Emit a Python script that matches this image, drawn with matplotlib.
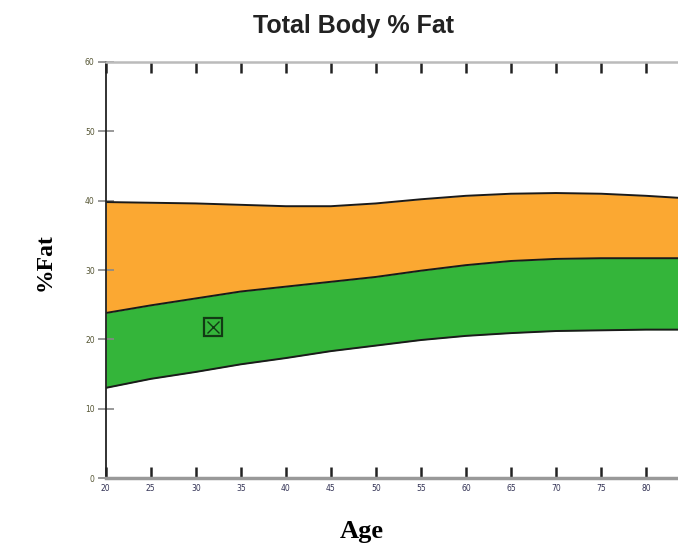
import matplotlib
matplotlib.use("Agg")
import matplotlib.pyplot as plt

# reference bands
age = [20, 25, 30, 35, 40, 45, 50, 55, 60, 65, 70, 75, 80, 85]
upper = [39.8, 39.7, 39.6, 39.4, 39.2, 39.2, 39.6, 40.2, 40.7, 41.0, 41.1, 41.0, 40.7, 40.3]
middle = [23.8, 24.9, 25.9, 26.9, 27.6, 28.3, 29.0, 29.9, 30.7, 31.3, 31.6, 31.7, 31.7, 31.7]
lower = [13.0, 14.3, 15.3, 16.4, 17.3, 18.3, 19.1, 19.9, 20.5, 20.9, 21.2, 21.3, 21.4, 21.4]

# patient point
pt_age = [31.9]
pt_fat = [21.8]

xticks = [20, 25, 30, 35, 40, 45, 50, 55, 60, 65, 70, 75, 80]
yticks = [0, 10, 20, 30, 40, 50, 60]

fig = plt.figure(figsize=(6.78, 5.53), dpi=100)
# axes runs off the right edge of the picture, as in the original
ax = fig.add_axes([0.156, 0.1356, 0.844, 0.7523])

ax.fill_between(age, middle, upper, color="#fba832", lw=0)
ax.fill_between(age, lower, middle, color="#34b53a", lw=0)
for curve in (upper, middle, lower):
    ax.plot(age, curve, color="#1a1a1a", lw=1.4)

ax.plot(pt_age, pt_fat, marker="s", ms=13, mfc="none", mec="#123a14", mew=1.6, ls="none")
ax.plot(pt_age, pt_fat, marker="x", ms=9, mec="#123a14", mew=1.0, ls="none")

ax.set_xlim(20, 20 + 572 / 9)
ax.set_ylim(0, 60)
ax.set_xticks(xticks)
ax.set_yticks(yticks)
ax.set_xticklabels([str(t) for t in xticks], fontsize=5.5, color="#333355")
ax.set_yticklabels([str(t) for t in yticks], fontsize=5.5, color="#555533")

ax.spines["right"].set_visible(False)
ax.spines["left"].set_color("#222222")
ax.spines["left"].set_linewidth(1.3)
ax.spines["bottom"].set_color("#999999")
ax.spines["bottom"].set_linewidth(2.5)
ax.spines["top"].set_color("#bbbbbb")
ax.spines["top"].set_linewidth(1.8)

ax.tick_params(axis="x", which="both", direction="in", length=8, width=1.8,
               color="#222222", top=True, pad=4)
ax.tick_params(axis="y", direction="inout", length=12, width=1.2,
               color="#888888", pad=2)

fig.text(0.522, 0.953, "Total Body % Fat", ha="center", va="center",
         fontsize=18, fontweight="bold", family="Liberation Sans", color="#222222")
fig.text(0.534, 0.038, "Age", ha="center", va="center",
         fontsize=19, fontweight="bold", family="Liberation Serif")
fig.text(0.066, 0.527, "%Fat", ha="center", va="center", rotation=90,
         fontsize=17, fontweight="bold", family="Liberation Serif")

fig.savefig("out.png", dpi=100)
